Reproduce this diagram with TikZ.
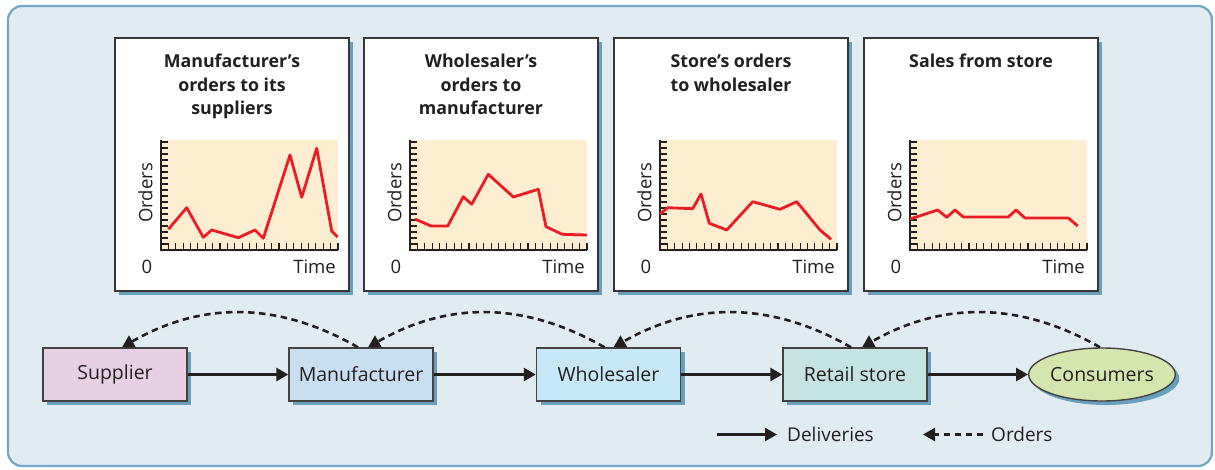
\documentclass[tikz,border=0pt]{standalone}
\usepackage{fontspec}
\setmainfont{Open Sans}
\usetikzlibrary{arrows.meta,shapes.geometric,shadows}
\definecolor{framefill}{RGB}{224,235,242}
\definecolor{framec}{RGB}{110,168,196}
\definecolor{shadowc}{RGB}{102,160,190}
\definecolor{plotbg}{RGB}{253,238,209}
\definecolor{redc}{RGB}{237,28,36}
\definecolor{txt}{RGB}{35,31,32}
\definecolor{supc}{RGB}{232,208,228}
\definecolor{manc}{RGB}{200,223,242}
\definecolor{whoc}{RGB}{200,232,247}
\definecolor{retc}{RGB}{197,227,225}
\definecolor{conc}{RGB}{213,229,174}
\begin{document}
\begin{tikzpicture}[x=1pt,y=-1pt,
  shadowed/.style={drop shadow={shadow xshift=4pt,shadow yshift=-4pt,fill=shadowc,opacity=1}},
  panel/.style={draw=txt!90,line width=1.4pt,fill=white,minimum width=234pt,minimum height=253pt,inner sep=0pt,shadowed},
  lab/.style={text=txt,inner sep=0pt,font=\fontsize{18.5}{22}\selectfont},
  ttl/.style={text=txt,inner sep=0pt,anchor=north,align=center,font=\bfseries\fontsize{17.8}{23.5}\selectfont},
  tick/.style={draw=txt,line width=1.2pt},
  axis/.style={draw=txt,line width=2.5pt},
  redline/.style={draw=redc,line width=2.8pt,line join=round},
  box/.style={draw=txt!85,line width=1.4pt,minimum width=144pt,minimum height=53pt,inner sep=0pt,text=txt,font=\fontsize{19.5}{23}\selectfont,shadowed},
  deliv/.style={draw=txt,line width=2.6pt,-{Triangle[length=12pt,width=13pt]}},
  order/.style={draw=txt,line width=2.6pt,dash pattern=on 6.5pt off 4.5pt,-{Triangle[length=12pt,width=13pt]}},
  legtext/.style={text=txt,inner sep=0pt,anchor=west,font=\fontsize{19}{23}\selectfont}
]
\useasboundingbox (0,0) rectangle (1215,469);
\fill[white] (0,0) rectangle (1215,469);
\draw[line width=2.2pt,draw=framec,fill=framefill,rounded corners=14pt] (8,6) rectangle (1212,466);

% chart panels
\foreach \i/\px in {1/115,2/364,3/614,4/864} {
  \begin{scope}[shift={(\px,0)}]
    \node[panel] (p\i) at (117,164.5) {};
    \fill[plotbg] (46,140) rectangle (223,250);
    \foreach \k in {1,...,18} \draw[tick] (46,{250-6*\k}) -- ++(7,0);
    \foreach \k in {1,...,24} \draw[tick] ({46+7.375*\k},250) -- ++(0,-7);
    \draw[axis] (46,140) -- (46,250) -- (223,250);
    \node[lab,rotate=90] (ord\i) at (30.5,193) {Orders};
    \node[lab] (zero\i) at (32,266.5) {0};
    \node[lab,anchor=east] (time\i) at (221,266.5) {Time};
  \end{scope}
}

\node[ttl] (t1) at (232,54) {Manufacturer’s\\orders to its\\suppliers};
\node[ttl] (t2) at (481,54) {Wholesaler’s\\orders to\\manufacturer};
\node[ttl] (t3) at (731,54) {Store’s orders\\to wholesaler};
\node[ttl] (t4) at (981,54) {Sales from store};

\begin{scope}[shift={(115,0)}]
  \draw[redline] (53.3,229.3) -- (71.7,207.7) -- (88.3,237.3) -- (96.7,230) -- (123.3,237.7) -- (140,230) -- (148.3,238.3) -- (175,155) -- (186.7,197.3) -- (201.7,148.3) -- (216.7,231) -- (222.7,237);
\end{scope}
\begin{scope}[shift={(364,0)}]
  \draw[redline] (51,219) -- (67,226) -- (83.7,226) -- (99.3,196.7) -- (107.7,204.3) -- (124.3,174.3) -- (149.3,197) -- (174.3,189.3) -- (182,226.7) -- (198.3,234.3) -- (223,235);
\end{scope}
\begin{scope}[shift={(614,0)}]
  \draw[redline] (46,214) -- (53.7,207.7) -- (78.7,208.7) -- (87,194) -- (95.3,223.3) -- (112.7,230) -- (138.7,201.7) -- (166,209.3) -- (182.7,201.7) -- (206,230) -- (217,239.3);
\end{scope}
\begin{scope}[shift={(864,0)}]
  \draw[redline] (46,219) -- (73.7,210) -- (82.7,217.3) -- (91,210) -- (99.3,217) -- (144.3,217) -- (152,210) -- (161,218) -- (204.3,218) -- (213.7,226);
\end{scope}

% supply chain
\node[box,fill=supc] (sup) at (115,374.5) {Supplier};
\node[box,fill=manc] (man) at (361,374.5) {Manufacturer};
\node[box,fill=whoc] (who) at (608.5,374.5) {Wholesaler};
\node[box,fill=retc] (ret) at (855,374.5) {Retail store};
\node[box,ellipse,fill=conc,minimum width=144pt,minimum height=53pt,drop shadow={shadow xshift=3pt,shadow yshift=-3pt,fill=shadowc,opacity=1}] (con) at (1102,374.5) {Consumers};

\draw[deliv] (sup) -- (man);
\draw[deliv] (man) -- (who);
\draw[deliv] (who) -- (ret);
\draw[deliv] (ret) -- (con);

\draw[order] ([xshift=-3pt]man.north) .. controls +(-80,-46) and +(80,-46) .. ([xshift=7pt]sup.north);
\draw[order] ([xshift=-4pt]who.north) .. controls +(-80,-46) and +(80,-46) .. ([xshift=7pt]man.north);
\draw[order] ([xshift=-4pt]ret.north) .. controls +(-80,-46) and +(80,-46) .. ([xshift=5pt]who.north);
\draw[order] ([xshift=-2pt]con.north) .. controls +(-80,-46) and +(80,-46) .. ([xshift=7pt]ret.north);

% legend
\coordinate (dl1) at (717,434.5);
\coordinate (dl2) at (777,434.5);
\draw[deliv] (dl1) -- (dl2);
\node[legtext] (legd) at (787,434.5) {Deliveries};
\coordinate (ol1) at (983,434.5);
\coordinate (ol2) at (923,434.5);
\draw[order] (ol1) -- (ol2);
\node[legtext] (lego) at (991,434.5) {Orders};
\end{tikzpicture}
\end{document}
